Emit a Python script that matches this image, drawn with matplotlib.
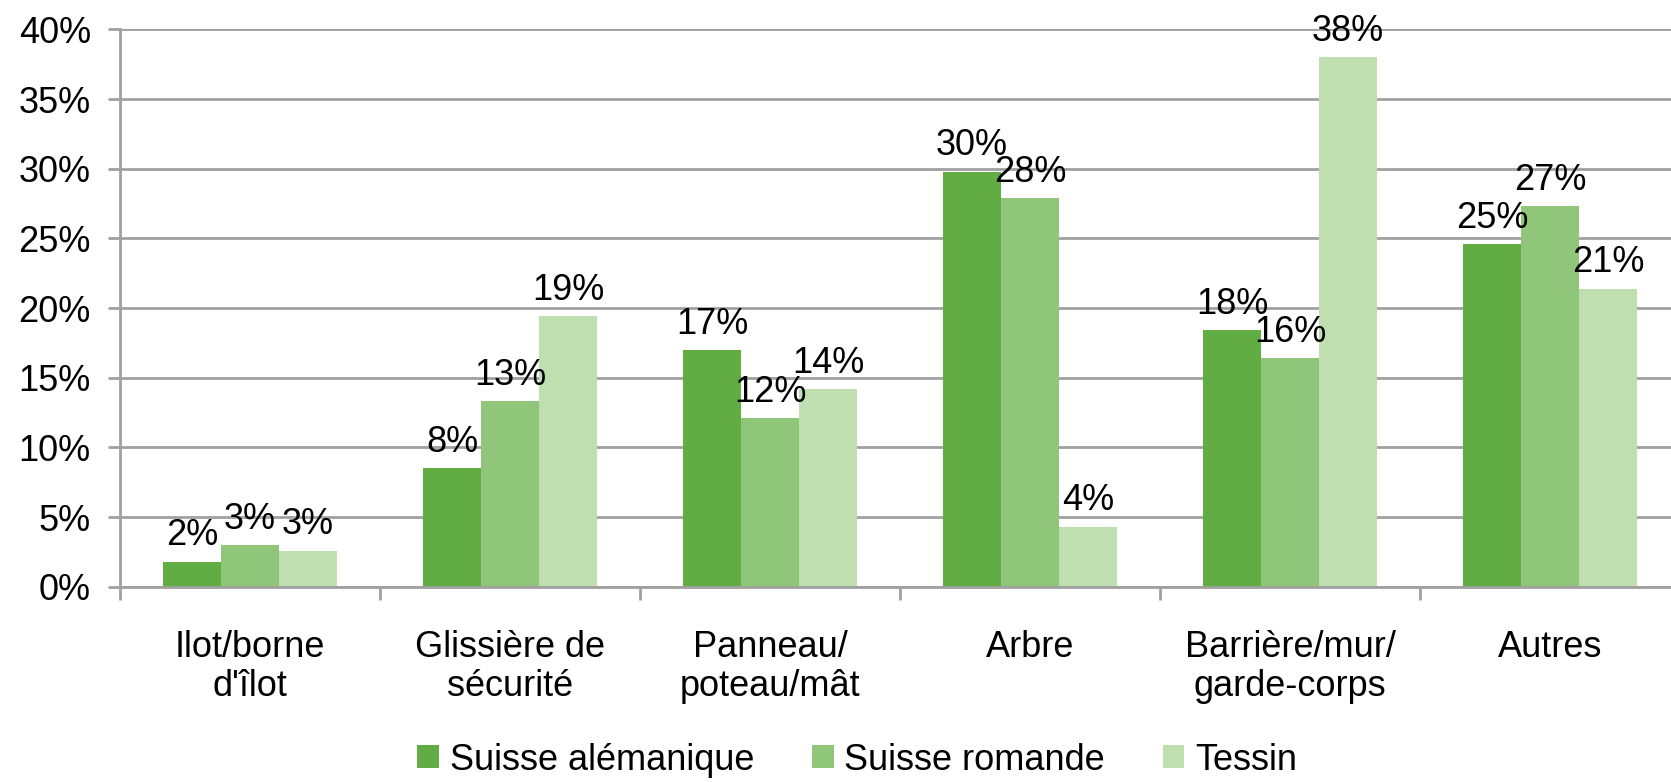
import matplotlib.pyplot as plt
import numpy as np

categories = ["Ilot/borne\nd'îlot", "Glissière de\nsécurité", "Panneau/\npoteau/mât",
              "Arbre", "Barrière/mur/\ngarde-corps", "Autres"]
series = ["Suisse alémanique", "Suisse romande", "Tessin"]
alemanique = [1.8, 8.5, 17.0, 29.8, 18.4, 24.6]
romande = [3.0, 13.3, 12.1, 27.9, 16.4, 27.3]
tessin = [2.6, 19.4, 14.2, 4.3, 38.0, 21.4]
colors = ["#62ad43", "#90c67a", "#c0dfb1"]

plt.rcParams['font.family'] = ['Liberation Sans', 'DejaVu Sans']
fs = 26

fig = plt.figure(figsize=(16.71, 7.82), dpi=100)
ax = fig.add_axes([0.0718, 0.2497, 0.9336, 0.7126])

x = np.arange(len(categories))
w = 0.223
for i, (vals, name) in enumerate(zip([alemanique, romande, tessin], series)):
    bars = ax.bar(x + (i - 1) * w, vals, w, color=colors[i], label=name, zorder=2)
    for b, v in zip(bars, vals):
        ax.annotate(f"{v:.0f}%", (b.get_x() + b.get_width() / 2, v),
                    xytext=(0, 6), textcoords="offset points",
                    ha="center", va="bottom", fontsize=fs)

ax.set_xlim(-0.5, 5.5)
ax.set_ylim(0, 40)
ax.set_yticks(range(0, 41, 5))
ax.set_yticklabels([f"{t}%" for t in range(0, 41, 5)], fontsize=fs)
ax.yaxis.grid(True, color="#a0a0a0", linewidth=2, zorder=0)
ax.tick_params(axis="y", length=9, width=2, color="#a0a0a0", pad=12)

ax.set_xticks(x)
ax.set_xticklabels(categories, fontsize=fs, linespacing=1.15)
ax.tick_params(axis="x", length=0, pad=31)
ax.set_xticks(np.arange(-0.5, 6, 1), minor=True)
ax.tick_params(axis="x", which="minor", length=9, width=2, color="#a0a0a0")

for s in ["top", "right"]:
    ax.spines[s].set_visible(False)
for s in ["left", "bottom"]:
    ax.spines[s].set_color("#a0a0a0")
    ax.spines[s].set_linewidth(2)

fig.legend(loc="center", bbox_to_anchor=(0.513, 0.028), ncol=3, frameon=False,
           fontsize=fs, handlelength=0.6, handleheight=0.6, handletextpad=0.3,
           columnspacing=1.6, borderpad=0.2)

fig.savefig("out.png", dpi=100)
